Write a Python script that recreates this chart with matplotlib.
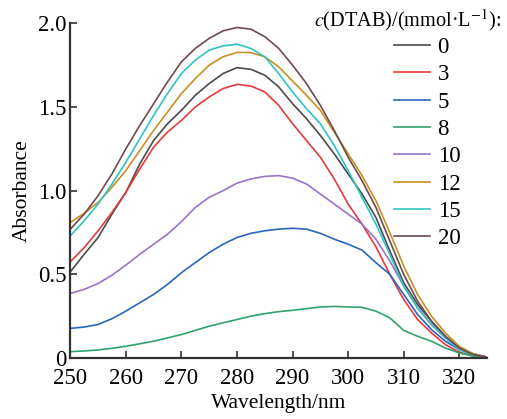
import matplotlib
matplotlib.use("Agg")
import matplotlib.pyplot as plt
import numpy as np

plt.rcParams['font.family'] = ['Liberation Serif', 'DejaVu Serif']
plt.rcParams['mathtext.fontset'] = 'stix'

wl = np.arange(250, 325.1, 2.5)

a0 = [0.515, 0.62, 0.72, 0.86, 0.99, 1.16, 1.30, 1.40, 1.48, 1.57, 1.64, 1.70, 1.735, 1.725, 1.69, 1.62,
      1.52, 1.43, 1.33, 1.22, 1.10, 0.98, 0.84, 0.64, 0.45, 0.32, 0.22, 0.13, 0.06, 0.025, 0.005]
a3 = [0.575, 0.66, 0.76, 0.87, 0.99, 1.13, 1.26, 1.35, 1.42, 1.50, 1.56, 1.61, 1.635, 1.625, 1.59, 1.51,
      1.40, 1.30, 1.20, 1.07, 0.92, 0.80, 0.665, 0.50, 0.35, 0.23, 0.15, 0.08, 0.035, 0.012, 0.003]
a5 = [0.177, 0.185, 0.20, 0.235, 0.28, 0.33, 0.38, 0.44, 0.51, 0.57, 0.63, 0.68, 0.72, 0.745, 0.76, 0.77,
      0.775, 0.77, 0.745, 0.71, 0.68, 0.645, 0.57, 0.50, 0.38, 0.26, 0.17, 0.10, 0.05, 0.02, 0.005]
a8 = [0.038, 0.042, 0.048, 0.058, 0.07, 0.085, 0.10, 0.12, 0.14, 0.165, 0.19, 0.21, 0.23, 0.25, 0.265, 0.277,
      0.285, 0.295, 0.305, 0.308, 0.305, 0.303, 0.28, 0.24, 0.165, 0.13, 0.10, 0.06, 0.03, 0.012, 0.003]
a10 = [0.386, 0.41, 0.445, 0.495, 0.555, 0.62, 0.68, 0.74, 0.815, 0.90, 0.96, 1.00, 1.045, 1.07, 1.085, 1.09,
       1.075, 1.04, 0.98, 0.92, 0.86, 0.80, 0.71, 0.58, 0.43, 0.30, 0.20, 0.12, 0.06, 0.02, 0.005]
a12 = [0.81, 0.865, 0.93, 1.02, 1.12, 1.24, 1.36, 1.47, 1.58, 1.67, 1.75, 1.80, 1.826, 1.825, 1.80, 1.74,
       1.655, 1.57, 1.48, 1.35, 1.22, 1.09, 0.94, 0.75, 0.55, 0.38, 0.25, 0.15, 0.07, 0.025, 0.005]
a15 = [0.73, 0.82, 0.92, 1.04, 1.17, 1.31, 1.45, 1.58, 1.70, 1.78, 1.84, 1.865, 1.875, 1.85, 1.80, 1.70,
       1.59, 1.49, 1.40, 1.27, 1.12, 0.96, 0.80, 0.62, 0.43, 0.30, 0.20, 0.12, 0.05, 0.018, 0.004]
a20 = [0.77, 0.86, 0.97, 1.10, 1.25, 1.39, 1.52, 1.65, 1.77, 1.85, 1.91, 1.955, 1.975, 1.965, 1.92, 1.85,
       1.75, 1.64, 1.51, 1.36, 1.20, 1.06, 0.90, 0.70, 0.50, 0.34, 0.22, 0.13, 0.06, 0.02, 0.005]

labels = ['0', '3', '5', '8', '10', '12', '15', '20']
series = [a0, a3, a5, a8, a10, a12, a15, a20]
colors = ['#4a4a4a', '#e8383d', '#2a66c0', '#2fa36b', '#9a74c6', '#c9901e', '#2ec4c4', '#6e4a50']

fig = plt.figure(figsize=(5.07, 4.19), dpi=100)
ax = fig.add_axes([0.1387, 0.1456, 0.8219, 0.7988])

for y, lab, c in zip(series, labels, colors):
    ax.plot(wl, y, color=c, lw=1.2, label=lab)

ax.set_xlim(250, 325)
ax.set_ylim(0, 2.0)
ax.set_xticks([250, 260, 270, 280, 290, 300, 310, 320])
ax.set_yticks([0, 0.5, 1.0, 1.5, 2.0])
ax.set_yticklabels(['0', '0.5', '1.0', '1.5', '2.0'])
for s in ['top', 'right']:
    ax.spines[s].set_visible(False)
for s in ['left', 'bottom']:
    ax.spines[s].set_linewidth(1.6)
    ax.spines[s].set_color('#333333')
ax.tick_params(direction='in', length=5, width=1.2, labelsize=16.5, color='#333333')
ax.tick_params(axis='x', pad=7)
ax.tick_params(axis='y', pad=3)
ax.set_xlabel('Wavelength/nm', fontsize=15.5, labelpad=4)
ax.set_ylabel('Absorbance', fontsize=15.5, labelpad=4)

fig.text(0.988, 0.952, r'$c$(DTAB)/(mmol·L$^{-1}$):', ha='right', va='center', fontsize=14.6)
ax.legend(loc='upper right', bbox_to_anchor=(0.908, 0.912), bbox_transform=fig.transFigure,
          frameon=False, fontsize=16.5, handlelength=1.57, handletextpad=0.35, labelspacing=0.275,
          borderpad=0, borderaxespad=0)

fig.savefig('out.png', dpi=100)
